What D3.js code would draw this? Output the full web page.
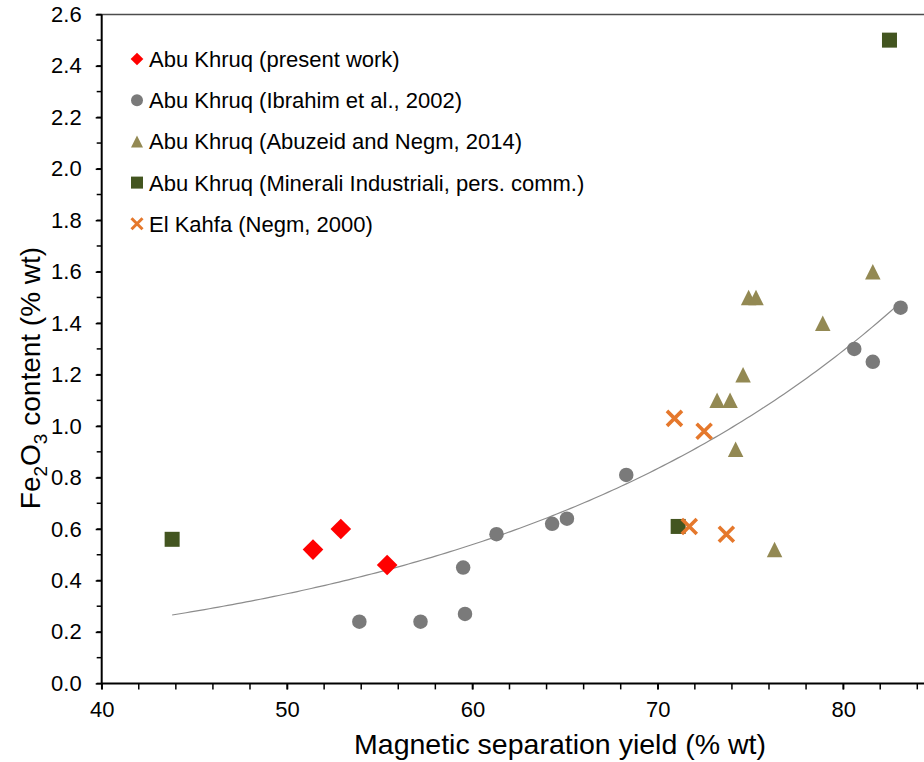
<!DOCTYPE html>
<html>
<head>
<meta charset="utf-8">
<script src="https://cdn.jsdelivr.net/npm/d3@7"></script>
<style>
  body { margin: 0; background: #fff; }
  text { font-family: "Liberation Sans", Arial, Helvetica, sans-serif; fill: #000; }
</style>
</head>
<body>
<svg id="chart"></svg>
<script>
// values
const presentX = [51.4, 52.9, 55.4];
const presentY = [0.52, 0.60, 0.46];
const ibrahimX = [53.9, 57.2, 59.5, 59.6, 61.3, 64.3, 65.1, 68.3, 80.6, 81.6, 83.1];
const ibrahimY = [0.24, 0.24, 0.45, 0.27, 0.58, 0.62, 0.64, 0.81, 1.30, 1.25, 1.46];
const abuzeidX = [73.2, 73.9, 74.2, 74.6, 74.9, 75.3, 76.3, 78.9, 81.6];
const abuzeidY = [1.10, 1.10, 0.91, 1.20, 1.50, 1.50, 0.52, 1.40, 1.60];
const mineraliX = [43.8, 71.1, 82.5];
const mineraliY = [0.56, 0.61, 2.50];
const kahfaX = [70.9, 71.7, 72.5, 73.7];
const kahfaY = [1.03, 0.61, 0.98, 0.58];

// exponential trendline y = A * exp(B * x), coefficients
const trendA = 0.0392;
const trendB = 0.0437;
const trendFrom = 43.8;
const trendTo = 83.1;

const xTickValues = [40, 50, 60, 70, 80];
const xMinorValues = d3.range(40, 86, 2);
const yTickValues = [0.0, 0.2, 0.4, 0.6, 0.8, 1.0, 1.2, 1.4, 1.6, 1.8, 2.0, 2.2, 2.4, 2.6];
const yMinorValues = d3.range(0, 2.65, 0.1);

const seriesNames = [
    "Abu Khruq (present work)",
    "Abu Khruq (Ibrahim et al., 2002)",
    "Abu Khruq (Abuzeid and Negm, 2014)",
    "Abu Khruq (Minerali Industriali, pers. comm.)",
    "El Kahfa (Negm, 2000)"
];

const width = 924, height = 762;
const svg = d3.select('#chart').attr('width', width).attr('height', height);

const x = d3.scaleLinear().domain([40, 85]).range([101.7, 101.7 + 45 * 18.536]);
const y = d3.scaleLinear().domain([0, 2.6]).range([683.4, 14.4]);

// plot frame: top border
svg.append('line')
    .attr('x1', x(40)).attr('x2', width)
    .attr('y1', y(2.6)).attr('y2', y(2.6))
    .attr('stroke', '#4d4d4d').attr('stroke-width', 1.5);

// y axis
let yAxis = svg.append('g').attr('transform', `translate(${x(40)},0)`)
    .call(d3.axisLeft(y).tickValues(yTickValues).tickFormat(d3.format('.1f')).tickSize(6).tickPadding(14));
yAxis.append('g').selectAll('line').data(yMinorValues).enter().append('line')
    .attr('x1', -5).attr('x2', 0)
    .attr('y1', d => y(d)).attr('y2', d => y(d))
    .attr('stroke', '#000').attr('stroke-width', 1.5);

// x axis
let xAxis = svg.append('g').attr('transform', `translate(0,${y(0)})`)
    .call(d3.axisBottom(x).tickValues(xTickValues).tickSize(6).tickPadding(12));
xAxis.append('g').selectAll('line').data(xMinorValues).enter().append('line')
    .attr('x1', d => x(d)).attr('x2', d => x(d))
    .attr('y1', 0).attr('y2', 6)
    .attr('stroke', '#000').attr('stroke-width', 1.5);

[yAxis, xAxis].forEach(function(ax) {
    ax.select('.domain').attr('stroke', '#000').attr('stroke-width', 2);
    ax.selectAll('.tick line').attr('stroke', '#000').attr('stroke-width', 1.5);
    ax.selectAll('.tick text').style('font-size', '22px')
        .style('font-family', '"Liberation Sans", Arial, sans-serif').attr('fill', '#000');
});
xAxis.select('.domain').attr('d', `M${x(40)},0H${width}`);
yAxis.select('.domain').attr('d', `M0,${y(0)}V${y(2.6)}`);

// axis titles
svg.append('text')
    .attr('x', 560).attr('y', 754)
    .attr('text-anchor', 'middle')
    .style('font-size', '28.5px')
    .text('Magnetic separation yield (% wt)');

let yTitle = svg.append('text')
    .attr('transform', 'translate(40,378) rotate(-90)')
    .attr('text-anchor', 'middle')
    .style('font-size', '28px');
yTitle.append('tspan').text('Fe');
yTitle.append('tspan').attr('dy', 7).style('font-size', '19px').text('2');
yTitle.append('tspan').attr('dy', -7).text('O');
yTitle.append('tspan').attr('dy', 7).style('font-size', '19px').text('3');
yTitle.append('tspan').attr('dy', -7).text(' content (% wt)');

// trendline
let trendPts = d3.range(trendFrom, trendTo, 0.25).concat([trendTo]);
svg.append('path')
    .datum(trendPts)
    .attr('fill', 'none')
    .attr('stroke', '#8c8c8c')
    .attr('stroke-width', 1.2)
    .attr('d', d3.line()
        .x(function(d) { return x(d); })
        .y(function(d) { return y(trendA * Math.exp(trendB * d)); }));

// marker painters
function diamond(g, s, color) {
    g.append('rect').attr('x', -s / 2).attr('y', -s / 2).attr('width', s).attr('height', s)
        .attr('transform', 'rotate(45)').attr('fill', color);
}
function circle(g, s, color) {
    g.append('circle').attr('r', s / 2).attr('fill', color);
}
function triangle(g, s, color) {
    g.append('path').attr('d', `M0,${-s / 2}L${s / 2},${s / 2}L${-s / 2},${s / 2}Z`).attr('fill', color);
}
function square(g, s, color) {
    g.append('rect').attr('x', -s / 2).attr('y', -s / 2).attr('width', s).attr('height', s).attr('fill', color);
}
function cross(g, s, color) {
    g.append('path').attr('d', `M${-s / 2},${-s / 2}L${s / 2},${s / 2}M${s / 2},${-s / 2}L${-s / 2},${s / 2}`)
        .attr('stroke', color).attr('stroke-width', s > 12 ? 3.6 : 3).attr('fill', 'none');
}

const series = [
    { xs: presentX,  ys: presentY,  draw: diamond,  color: '#ff0000', size: 14.6, lsize: 9 },
    { xs: ibrahimX,  ys: ibrahimY,  draw: circle,   color: '#7a7a7a', size: 14.5, lsize: 12 },
    { xs: abuzeidX,  ys: abuzeidY,  draw: triangle, color: '#938953', size: 15.5, lsize: 12 },
    { xs: mineraliX, ys: mineraliY, draw: square,   color: '#435520', size: 15,   lsize: 12 },
    { xs: kahfaX,    ys: kahfaY,    draw: cross,    color: '#e5782c', size: 15,   lsize: 11 }
];

series.forEach(function(s) {
    let pts = s.xs.map(function(v, i) { return [v, s.ys[i]]; });
    svg.append('g').selectAll('g').data(pts).enter().append('g')
        .attr('transform', d => `translate(${x(d[0])},${y(d[1])})`)
        .each(function() { s.draw(d3.select(this), s.size, s.color); });
});

// legend
let legend = svg.append('g');
series.forEach(function(s, i) {
    let row = legend.append('g').attr('transform', `translate(137,${59 + i * 41.2})`);
    s.draw(row.append('g'), s.lsize, s.color);
    row.append('text').attr('x', 12).attr('y', 8).style('font-size', '22px').text(seriesNames[i]);
});
</script>
</body>
</html>
